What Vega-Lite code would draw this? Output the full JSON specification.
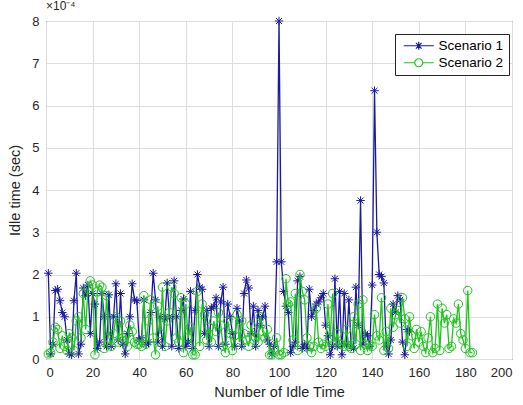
{
  "$schema": "https://vega.github.io/schema/vega-lite/v6.json",
  "width": 466,
  "height": 338,
  "autosize": {"type": "none"},
  "padding": {"left": 46, "top": 21, "right": 11, "bottom": 46},
  "background": "white",
  "title": {"text": "×10⁻⁴", "anchor": "start", "frame": "group", "fontSize": 12, "fontWeight": "normal", "font": "Liberation Sans", "color": "#262626", "offset": 2},
  "data": {"values": [
    {"n":1,"Scenario 1":2.03,"Scenario 2":0.12},{"n":2,"Scenario 1":0.12,"Scenario 2":0.15},{"n":3,"Scenario 1":0.35,"Scenario 2":0.4},{"n":4,"Scenario 1":1.62,"Scenario 2":0.75},{"n":5,"Scenario 1":1.65,"Scenario 2":0.7},
    {"n":6,"Scenario 1":1.38,"Scenario 2":0.25},{"n":7,"Scenario 1":1.1,"Scenario 2":0.55},{"n":8,"Scenario 1":1.0,"Scenario 2":0.3},{"n":9,"Scenario 1":0.45,"Scenario 2":0.2},{"n":10,"Scenario 1":0.12,"Scenario 2":0.6},
    {"n":11,"Scenario 1":0.1,"Scenario 2":0.5},{"n":12,"Scenario 1":1.38,"Scenario 2":0.2},{"n":13,"Scenario 1":2.03,"Scenario 2":0.9},{"n":14,"Scenario 1":0.12,"Scenario 2":1.0},{"n":15,"Scenario 1":0.35,"Scenario 2":0.5},
    {"n":16,"Scenario 1":1.68,"Scenario 2":1.55},{"n":17,"Scenario 1":1.5,"Scenario 2":0.7},{"n":18,"Scenario 1":1.75,"Scenario 2":1.65},{"n":19,"Scenario 1":0.6,"Scenario 2":1.85},{"n":20,"Scenario 1":1.55,"Scenario 2":1.75},
    {"n":21,"Scenario 1":1.3,"Scenario 2":0.1},{"n":22,"Scenario 1":0.25,"Scenario 2":1.6},{"n":23,"Scenario 1":0.4,"Scenario 2":1.75},{"n":24,"Scenario 1":1.55,"Scenario 2":1.7},{"n":25,"Scenario 1":1.0,"Scenario 2":0.25},
    {"n":26,"Scenario 1":0.3,"Scenario 2":1.5},{"n":27,"Scenario 1":1.52,"Scenario 2":0.5},{"n":28,"Scenario 1":0.3,"Scenario 2":0.3},{"n":29,"Scenario 1":1.0,"Scenario 2":0.6},{"n":30,"Scenario 1":1.78,"Scenario 2":1.0},
    {"n":31,"Scenario 1":0.45,"Scenario 2":0.4},{"n":32,"Scenario 1":1.55,"Scenario 2":0.9},{"n":33,"Scenario 1":0.35,"Scenario 2":0.5},{"n":34,"Scenario 1":0.12,"Scenario 2":0.55},{"n":35,"Scenario 1":0.6,"Scenario 2":0.3},
    {"n":36,"Scenario 1":1.0,"Scenario 2":0.8},{"n":37,"Scenario 1":1.78,"Scenario 2":0.65},{"n":38,"Scenario 1":1.4,"Scenario 2":0.4},{"n":39,"Scenario 1":1.38,"Scenario 2":0.35},{"n":40,"Scenario 1":0.45,"Scenario 2":0.35},
    {"n":41,"Scenario 1":0.5,"Scenario 2":0.3},{"n":42,"Scenario 1":1.4,"Scenario 2":1.5},{"n":43,"Scenario 1":0.35,"Scenario 2":0.35},{"n":44,"Scenario 1":0.4,"Scenario 2":0.9},{"n":45,"Scenario 1":1.1,"Scenario 2":1.4},
    {"n":46,"Scenario 1":2.03,"Scenario 2":0.5},{"n":47,"Scenario 1":1.4,"Scenario 2":0.1},{"n":48,"Scenario 1":0.4,"Scenario 2":1.25},{"n":49,"Scenario 1":1.0,"Scenario 2":0.6},{"n":50,"Scenario 1":0.3,"Scenario 2":1.7},
    {"n":51,"Scenario 1":0.95,"Scenario 2":0.3},{"n":52,"Scenario 1":1.8,"Scenario 2":0.9},{"n":53,"Scenario 1":1.0,"Scenario 2":1.1},{"n":54,"Scenario 1":0.3,"Scenario 2":1.7},{"n":55,"Scenario 1":1.85,"Scenario 2":1.55},
    {"n":56,"Scenario 1":1.0,"Scenario 2":0.5},{"n":57,"Scenario 1":0.25,"Scenario 2":0.4},{"n":58,"Scenario 1":1.15,"Scenario 2":1.45},{"n":59,"Scenario 1":1.42,"Scenario 2":0.15},{"n":60,"Scenario 1":0.3,"Scenario 2":1.3},
    {"n":61,"Scenario 1":0.4,"Scenario 2":0.5},{"n":62,"Scenario 1":1.6,"Scenario 2":0.75},{"n":63,"Scenario 1":0.25,"Scenario 2":0.1},{"n":64,"Scenario 1":1.15,"Scenario 2":0.1},{"n":65,"Scenario 1":2.0,"Scenario 2":1.6},
    {"n":66,"Scenario 1":1.7,"Scenario 2":0.3},{"n":67,"Scenario 1":1.65,"Scenario 2":1.3},{"n":68,"Scenario 1":0.6,"Scenario 2":1.05},{"n":69,"Scenario 1":1.15,"Scenario 2":0.45},{"n":70,"Scenario 1":0.3,"Scenario 2":0.75},
    {"n":71,"Scenario 1":1.2,"Scenario 2":0.4},{"n":72,"Scenario 1":1.25,"Scenario 2":0.9},{"n":73,"Scenario 1":1.45,"Scenario 2":0.65},{"n":74,"Scenario 1":0.3,"Scenario 2":1.1},{"n":75,"Scenario 1":1.35,"Scenario 2":0.8},
    {"n":76,"Scenario 1":1.7,"Scenario 2":0.3},{"n":77,"Scenario 1":0.35,"Scenario 2":0.15},{"n":78,"Scenario 1":1.3,"Scenario 2":0.9},{"n":79,"Scenario 1":1.0,"Scenario 2":0.6},{"n":80,"Scenario 1":0.6,"Scenario 2":0.2},
    {"n":81,"Scenario 1":0.3,"Scenario 2":0.55},{"n":82,"Scenario 1":1.2,"Scenario 2":1.05},{"n":83,"Scenario 1":0.9,"Scenario 2":0.4},{"n":84,"Scenario 1":0.3,"Scenario 2":0.9},{"n":85,"Scenario 1":1.55,"Scenario 2":0.6},
    {"n":86,"Scenario 1":1.87,"Scenario 2":0.45},{"n":87,"Scenario 1":1.68,"Scenario 2":0.3},{"n":88,"Scenario 1":0.6,"Scenario 2":0.8},{"n":89,"Scenario 1":1.25,"Scenario 2":0.55},{"n":90,"Scenario 1":0.3,"Scenario 2":0.5},
    {"n":91,"Scenario 1":1.15,"Scenario 2":0.4},{"n":92,"Scenario 1":0.8,"Scenario 2":1.0},{"n":93,"Scenario 1":1.0,"Scenario 2":0.65},{"n":94,"Scenario 1":1.25,"Scenario 2":0.5},{"n":95,"Scenario 1":0.45,"Scenario 2":0.7},
    {"n":96,"Scenario 1":0.35,"Scenario 2":0.1},{"n":97,"Scenario 1":0.12,"Scenario 2":0.1},{"n":98,"Scenario 1":0.3,"Scenario 2":0.25},{"n":99,"Scenario 1":2.3,"Scenario 2":0.5},{"n":100,"Scenario 1":8.0,"Scenario 2":0.1},
    {"n":101,"Scenario 1":2.3,"Scenario 2":0.1},{"n":102,"Scenario 1":1.6,"Scenario 2":0.15},{"n":103,"Scenario 1":1.25,"Scenario 2":1.9},{"n":104,"Scenario 1":1.1,"Scenario 2":1.3},{"n":105,"Scenario 1":0.15,"Scenario 2":1.35},
    {"n":106,"Scenario 1":0.3,"Scenario 2":0.45},{"n":107,"Scenario 1":0.4,"Scenario 2":1.55},{"n":108,"Scenario 1":1.85,"Scenario 2":0.2},{"n":109,"Scenario 1":1.95,"Scenario 2":2.0},{"n":110,"Scenario 1":0.25,"Scenario 2":1.6},
    {"n":111,"Scenario 1":0.35,"Scenario 2":1.4},{"n":112,"Scenario 1":0.25,"Scenario 2":0.5},{"n":113,"Scenario 1":1.65,"Scenario 2":0.3},{"n":114,"Scenario 1":1.0,"Scenario 2":0.15},{"n":115,"Scenario 1":1.15,"Scenario 2":0.3},
    {"n":116,"Scenario 1":1.3,"Scenario 2":1.2},{"n":117,"Scenario 1":1.35,"Scenario 2":0.4},{"n":118,"Scenario 1":1.45,"Scenario 2":0.25},{"n":119,"Scenario 1":1.55,"Scenario 2":0.35},{"n":120,"Scenario 1":0.8,"Scenario 2":0.3},
    {"n":121,"Scenario 1":0.55,"Scenario 2":1.3},{"n":122,"Scenario 1":0.1,"Scenario 2":0.5},{"n":123,"Scenario 1":0.3,"Scenario 2":1.55},{"n":124,"Scenario 1":1.9,"Scenario 2":0.4},{"n":125,"Scenario 1":0.3,"Scenario 2":0.6},
    {"n":126,"Scenario 1":1.6,"Scenario 2":0.35},{"n":127,"Scenario 1":0.1,"Scenario 2":0.35},{"n":128,"Scenario 1":1.55,"Scenario 2":0.3},{"n":129,"Scenario 1":0.35,"Scenario 2":0.7},{"n":130,"Scenario 1":1.4,"Scenario 2":0.3},
    {"n":131,"Scenario 1":0.3,"Scenario 2":0.25},{"n":132,"Scenario 1":0.25,"Scenario 2":1.0},{"n":133,"Scenario 1":1.7,"Scenario 2":0.35},{"n":134,"Scenario 1":0.8,"Scenario 2":1.3},{"n":135,"Scenario 1":3.75,"Scenario 2":0.2},
    {"n":136,"Scenario 1":0.35,"Scenario 2":1.4},{"n":137,"Scenario 1":0.6,"Scenario 2":0.35},{"n":138,"Scenario 1":0.55,"Scenario 2":0.2},{"n":139,"Scenario 1":0.3,"Scenario 2":0.35},{"n":140,"Scenario 1":1.75,"Scenario 2":0.3},
    {"n":141,"Scenario 1":6.35,"Scenario 2":1.05},{"n":142,"Scenario 1":3.0,"Scenario 2":0.55},{"n":143,"Scenario 1":2.0,"Scenario 2":0.45},{"n":144,"Scenario 1":1.95,"Scenario 2":1.45},{"n":145,"Scenario 1":1.8,"Scenario 2":0.2},
    {"n":146,"Scenario 1":0.3,"Scenario 2":0.65},{"n":147,"Scenario 1":0.12,"Scenario 2":0.25},{"n":148,"Scenario 1":0.45,"Scenario 2":1.2},{"n":149,"Scenario 1":1.3,"Scenario 2":0.75},{"n":150,"Scenario 1":1.1,"Scenario 2":1.05},
    {"n":151,"Scenario 1":1.5,"Scenario 2":1.15},{"n":152,"Scenario 1":1.4,"Scenario 2":0.85},{"n":153,"Scenario 1":0.4,"Scenario 2":1.45},{"n":154,"Scenario 1":0.1,"Scenario 2":0.95},{"n":155,"Scenario 1":0.7,"Scenario 2":0.3},
    {"n":156,"Scenario 1":0.65,"Scenario 2":1.0},{"n":157,"Scenario 2":0.55},{"n":158,"Scenario 2":0.25},{"n":159,"Scenario 2":0.7},{"n":160,"Scenario 2":0.4},
    {"n":161,"Scenario 2":0.65},{"n":162,"Scenario 2":0.3},{"n":163,"Scenario 2":0.15},{"n":164,"Scenario 2":0.5},{"n":165,"Scenario 2":1.0},
    {"n":166,"Scenario 2":0.15},{"n":167,"Scenario 2":0.25},{"n":168,"Scenario 2":1.3},{"n":169,"Scenario 2":0.2},{"n":170,"Scenario 2":1.2},
    {"n":171,"Scenario 2":0.85},{"n":172,"Scenario 2":1.05},{"n":173,"Scenario 2":0.25},{"n":174,"Scenario 2":0.3},{"n":175,"Scenario 2":0.95},
    {"n":176,"Scenario 2":0.85},{"n":177,"Scenario 2":1.3},{"n":178,"Scenario 2":0.6},{"n":179,"Scenario 2":0.45},{"n":180,"Scenario 2":0.25},
    {"n":181,"Scenario 2":1.62},{"n":182,"Scenario 2":0.15},{"n":183,"Scenario 2":0.15}
  ]},
  "transform": [
    {"fold": ["Scenario 1", "Scenario 2"], "as": ["scenario", "idle"]},
    {"filter": "isValid(datum.idle)"}
  ],
  "encoding": {
    "x": {"field": "n", "type": "quantitative", "scale": {"domain": [0, 200], "nice": false},
      "axis": {"values": [0,20,40,60,80,100,120,140,160,180,200], "title": "Number of Idle Time"}},
    "y": {"field": "idle", "type": "quantitative", "scale": {"domain": [0, 8], "nice": false},
      "axis": {"values": [0,1,2,3,4,5,6,7,8], "title": "Idle time (sec)"}},
    "color": {"field": "scenario", "type": "nominal",
      "scale": {"domain": ["Scenario 1", "Scenario 2"], "range": ["#1a1aa0", "#1fc41f"]}}
  },
  "layer": [
    {"transform": [{"filter": "datum.scenario === 'Scenario 1'"}],
     "mark": {"type": "line", "strokeWidth": 1.3}},
    {"transform": [{"filter": "datum.scenario === 'Scenario 1'"}],
     "mark": {"type": "point", "filled": false, "strokeWidth": 1, "opacity": 1, "size": 72,
       "shape": "M-1,0L1,0M0,-1L0,1M-0.7,-0.7L0.7,0.7M-0.7,0.7L0.7,-0.7"}},
    {"transform": [{"filter": "datum.scenario === 'Scenario 2'"}],
     "mark": {"type": "line", "strokeWidth": 1.3}},
    {"transform": [{"filter": "datum.scenario === 'Scenario 2'"}],
     "mark": {"type": "point", "filled": false, "strokeWidth": 1, "opacity": 1, "size": 72,
       "shape": "M-1,0A1,1 0 1,1 1,0A1,1 0 1,1 -1,0"}},
    {"transform": [{"filter": "false"}],
     "mark": {"type": "point", "filled": false, "strokeWidth": 1.2, "opacity": 1},
     "encoding": {
       "shape": {"field": "scenario", "type": "nominal",
         "scale": {"domain": ["Scenario 1", "Scenario 2"],
           "range": ["M-3.75,0L3.75,0M-1,0L1,0M0,-1L0,1M-0.7,-0.7L0.7,0.7M-0.7,0.7L0.7,-0.7", "M-3.75,0L-1,0M1,0L3.75,0M-1,0A1,1 0 1,1 1,0A1,1 0 1,1 -1,0"]}}
     }}
  ],
  "config": {
    "view": {"stroke": "#262626", "strokeWidth": 1},
    "legend": {
      "title": null, "orient": "none", "legendX": 349, "legendY": 13,
      "fillColor": "white", "strokeColor": "#262626", "padding": 5,
      "symbolSize": 64, "symbolOffset": 12, "labelOffset": 13,
      "labelFont": "Liberation Sans", "labelFontSize": 13.5, "labelColor": "#000000",
      "rowPadding": 2, "symbolStrokeWidth": 1.2
    },
    "axis": {
      "grid": true, "gridColor": "#dedede", "gridWidth": 1,
      "domain": false, "ticks": false,
      "labelFont": "Liberation Sans", "labelFontSize": 13, "labelColor": "#262626",
      "titleFont": "Liberation Sans", "titleFontSize": 14.5, "titleFontWeight": "normal", "titleColor": "#262626"
    },
    "axisX": {"labelPadding": 7, "titlePadding": 6},
    "axisY": {"labelPadding": 7, "titlePadding": 9}
  }
}
